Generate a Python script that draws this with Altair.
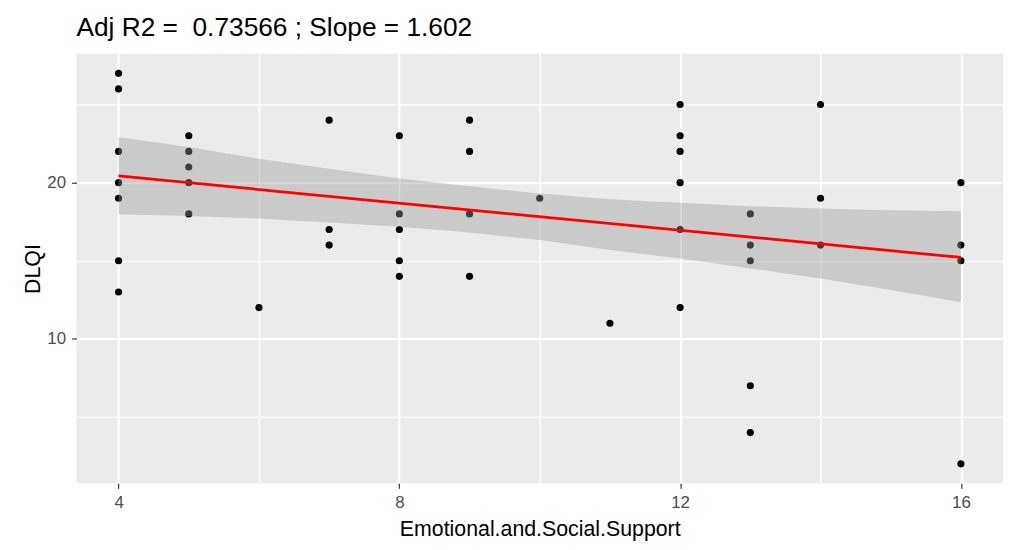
import altair as alt
import pandas as pd

# ---- data ----
support = [4, 4, 4, 4, 4, 4, 4,
           5, 5, 5, 5, 5,
           6,
           7, 7, 7,
           8, 8, 8, 8, 8,
           9, 9, 9, 9,
           10,
           11,
           12, 12, 12, 12, 12, 12,
           13, 13, 13, 13, 13,
           14, 14, 14,
           16, 16, 16, 16]
dlqi = [27, 26, 22, 20, 19, 15, 13,
        23, 22, 21, 20, 18,
        12,
        24, 17, 16,
        23, 18, 17, 15, 14,
        24, 22, 18, 14,
        19,
        11,
        25, 23, 22, 20, 17, 12,
        18, 16, 15, 7, 4,
        25, 19, 16,
        20, 16, 15, 2]

fit_x = [4, 16]
fit_y = [20.43, 15.21]

band_x = [4, 5, 6, 7, 8, 9, 10, 11, 12, 13, 14, 15, 16]
band_hi = [22.91, 22.28, 21.53, 20.89, 20.26, 19.77, 19.30, 18.94, 18.72, 18.49, 18.34, 18.23, 18.17]
band_lo = [17.98, 17.87, 17.70, 17.45, 17.17, 16.81, 16.32, 15.68, 15.15, 14.51, 13.87, 13.13, 12.34]

x_grid = [4, 6, 8, 10, 12, 14, 16]
y_grid = [5, 10, 15, 20, 25]

# second space is a no-break space so the double gap survives SVG whitespace collapsing
title_text = "Adj R2 = \u00a00.73566 ; Slope = 1.602"
x_title = "Emotional.and.Social.Support"
y_title = "DLQI"

FONT = "Liberation Sans"
W, H = 934, 433

pts = pd.DataFrame({"x": support, "y": dlqi})
fit = pd.DataFrame({"x": fit_x, "y": fit_y})
band = pd.DataFrame({"x": band_x, "lo": band_lo, "hi": band_hi})

xscale = alt.Scale(domain=[3.4, 16.6], nice=False, zero=False)
yscale = alt.Scale(domain=[0.75, 28.25], nice=False, zero=False)

xaxis = alt.Axis(
    values=x_grid,
    format="d",
    labelExpr="datum.value % 4 == 0 ? datum.label : ''",
    tickSize=5,
    tickOpacity={"condition": {"test": "datum.value % 4 == 0", "value": 1}, "value": 0},
    gridWidth={"condition": {"test": "datum.value % 4 == 0", "value": 2}, "value": 1.4},
    grid=True,
    gridColor="white",
    domain=False,
    tickColor="#333333",
    tickWidth=1.2,
    labelColor="#4D4D4D",
    labelFont=FONT,
    labelFontSize=17,
    labelPadding=6,
    labelFlush=False,
    labelOverlap=False,
    title=x_title,
    titleFont=FONT,
    titleFontSize=21.5,
    titleFontWeight="normal",
    titleColor="black",
    titleX=W / 2,
    titleY=52.7,
    titleAlign="center",
    titleBaseline="alphabetic",
)

yaxis = alt.Axis(
    values=y_grid,
    format="d",
    labelExpr="datum.value % 10 == 0 ? datum.label : ''",
    tickSize=5,
    tickOpacity={"condition": {"test": "datum.value % 10 == 0", "value": 1}, "value": 0},
    gridWidth={"condition": {"test": "datum.value % 10 == 0", "value": 2}, "value": 1.4},
    grid=True,
    gridColor="white",
    domain=False,
    tickColor="#333333",
    tickWidth=1.2,
    labelColor="#4D4D4D",
    labelFont=FONT,
    labelFontSize=17,
    labelPadding=6,
    labelFlush=False,
    labelOverlap=False,
    title=y_title,
    titleFont=FONT,
    titleFontSize=21.5,
    titleFontWeight="normal",
    titleColor="black",
    titleAngle=270,
    titleX=-37.7,
    titleY=H / 2,
    titleAlign="center",
    titleBaseline="alphabetic",
)

points = alt.Chart(pts).mark_point(filled=True, color="black", opacity=1, size=52).encode(
    x=alt.X("x:Q", scale=xscale, axis=xaxis),
    y=alt.Y("y:Q", scale=yscale, axis=yaxis),
)

ribbon = alt.Chart(band).mark_area(color="#999999", opacity=0.4).encode(
    x=alt.X("x:Q", scale=xscale),
    y=alt.Y("lo:Q", scale=yscale),
    y2="hi:Q",
)

line = alt.Chart(fit).mark_line(color="#FF0000", strokeWidth=2.8).encode(
    x=alt.X("x:Q", scale=xscale),
    y=alt.Y("y:Q", scale=yscale),
)

chart = alt.layer(points, ribbon, line).properties(
    width=W,
    height=H,
    autosize=alt.AutoSizeParams(type="none"),
    padding={"left": 69, "top": 44, "right": 2, "bottom": 57},
    background="white",
    title=alt.Title(
        title_text,
        anchor="start",
        frame="group",
        font=FONT,
        fontSize=26.5,
        fontWeight="normal",
        color="black",
        baseline="alphabetic",
        offset=-9,
    ),
).configure_view(fill="#EBEBEB", strokeWidth=0)

chart.save("out.html", embed_options={"renderer": "svg", "actions": False})
